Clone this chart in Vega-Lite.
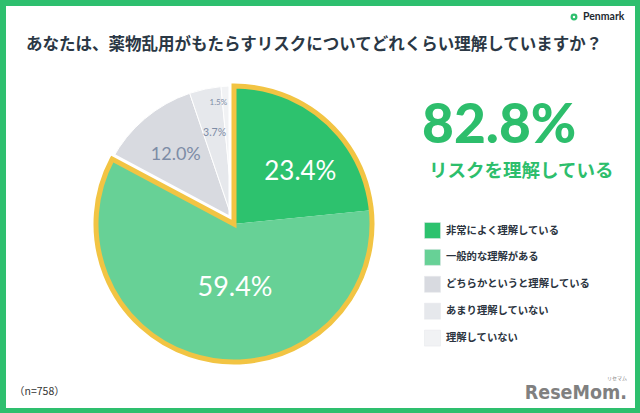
{
  "$schema": "https://vega.github.io/schema/vega-lite/v6.json",
  "width": 640,
  "height": 413,
  "autosize": {"type": "fit", "contains": "padding"},
  "padding": 5,
  "background": "#2EBF6E",
  "view": {"fill": "#FFFFFF", "fillOpacity": 1, "stroke": null},
  "datasets": {
    "survey": [
      {"rank": 1, "category": "非常によく理解している", "value": 23.4},
      {"rank": 2, "category": "一般的な理解がある", "value": 59.4},
      {"rank": 3, "category": "どちらかというと理解している", "value": 12.0},
      {"rank": 4, "category": "あまり理解していない", "value": 3.7},
      {"rank": 5, "category": "理解していない", "value": 1.5}
    ]
  },
  "data": {"name": "survey"},
  "transform": [{"calculate": "format(datum.value, '.1f') + '%'", "as": "label"}],
  "layer": [
    {
      "mark": {"type": "arc", "radius": 138, "stroke": "white", "strokeWidth": 1},
      "encoding": {
        "theta": {"field": "value", "type": "quantitative", "stack": true, "scale": {"domain": [0, 100]}},
        "order": {"field": "rank", "type": "quantitative"},
        "color": {
          "field": "category", "type": "nominal",
          "scale": {
            "domain": ["非常によく理解している", "一般的な理解がある", "どちらかというと理解している", "あまり理解していない", "理解していない"],
            "range": ["#2DC26E", "#67D196", "#D8DAE0", "#E6E8EC", "#F1F2F4"]
          },
          "legend": {
            "title": null, "orient": "none", "legendX": 418, "legendY": 216,
            "symbolType": "square", "symbolSize": 256, "symbolStrokeWidth": 0.5, "symbolStrokeColor": "#E4E6EA",
            "labelFont": "Noto Sans CJK JP", "labelFontSize": 10.3, "labelFontWeight": "bold", "labelColor": "#2B3440",
            "rowPadding": 7.9, "labelOffset": 5, "padding": 0, "symbolOpacity": 1
          }
        },
        "x": {"value": 228},
        "y": {"value": 218}
      }
    },
    {
      "transform": [{"filter": "datum.rank <= 2"}, {"aggregate": [{"op": "sum", "field": "value", "as": "total"}]}],
      "mark": {"type": "arc", "radius": 138, "filled": false, "stroke": "white", "strokeWidth": 11},
      "encoding": {
        "theta": {"field": "total", "type": "quantitative", "stack": true},
        "x": {"value": 228},
        "y": {"value": 218}
      }
    },
    {
      "transform": [{"filter": "datum.rank <= 2"}],
      "mark": {"type": "arc", "radius": 138},
      "encoding": {
        "theta": {"field": "value", "type": "quantitative", "stack": true},
        "order": {"field": "rank", "type": "quantitative"},
        "color": {"field": "category", "type": "nominal"},
        "x": {"value": 228},
        "y": {"value": 218}
      }
    },
    {
      "transform": [{"filter": "datum.rank <= 2"}, {"aggregate": [{"op": "sum", "field": "value", "as": "total"}]}],
      "mark": {"type": "arc", "radius": 138, "filled": false, "stroke": "#F2C443", "strokeWidth": 5},
      "encoding": {
        "theta": {"field": "total", "type": "quantitative", "stack": true},
        "x": {"value": 228},
        "y": {"value": 218}
      }
    },
    {
      "mark": {"type": "text", "radius": 81, "font": "Lato", "fontSize": 26, "color": "white", "dx": 12, "dy": 8},
      "encoding": {
        "theta": {"field": "value", "type": "quantitative", "stack": true},
        "order": {"field": "rank", "type": "quantitative"},
        "text": {"condition": {"test": "datum.rank == 1", "field": "label"}, "value": ""},
        "x": {"value": 228},
        "y": {"value": 218}
      }
    },
    {
      "mark": {"type": "text", "radius": 57, "font": "Lato", "fontSize": 27, "color": "white", "dx": 12, "dy": 8},
      "encoding": {
        "theta": {"field": "value", "type": "quantitative", "stack": true},
        "order": {"field": "rank", "type": "quantitative"},
        "text": {"condition": {"test": "datum.rank == 2", "field": "label"}, "value": ""},
        "x": {"value": 228},
        "y": {"value": 218}
      }
    },
    {
      "mark": {"type": "text", "radius": 90, "font": "Lato", "fontSize": 18, "color": "#7D8CA6"},
      "encoding": {
        "theta": {"field": "value", "type": "quantitative", "stack": true},
        "order": {"field": "rank", "type": "quantitative"},
        "text": {"condition": {"test": "datum.rank == 3", "field": "label"}, "value": ""},
        "x": {"value": 228},
        "y": {"value": 218}
      }
    },
    {
      "mark": {"type": "text", "radius": 93, "font": "Lato", "fontSize": 10.5, "color": "#7D8CA6"},
      "encoding": {
        "theta": {"field": "value", "type": "quantitative", "stack": true},
        "order": {"field": "rank", "type": "quantitative"},
        "text": {"condition": {"test": "datum.rank == 4", "field": "label"}, "value": ""},
        "x": {"value": 228},
        "y": {"value": 218}
      }
    },
    {
      "mark": {"type": "text", "radius": 121, "font": "Lato", "fontSize": 8, "color": "#7D8CA6", "dx": -10},
      "encoding": {
        "theta": {"field": "value", "type": "quantitative", "stack": true},
        "order": {"field": "rank", "type": "quantitative"},
        "text": {"condition": {"test": "datum.rank == 5", "field": "label"}, "value": ""},
        "x": {"value": 228},
        "y": {"value": 218}
      }
    },
    {
      "data": {"values": [{}]},
      "mark": {"type": "rule", "x": 361, "y": 157, "x2": 408, "y2": 139, "color": "#666666", "strokeWidth": 1},
      "encoding": {}
    },
    {
      "data": {"values": [{}]},
      "mark": {"type": "text", "text": "あなたは、薬物乱用がもたらすリスクについてどれくらい理解していますか？", "x": 20, "y": 39, "align": "left", "baseline": "middle", "font": "Noto Sans CJK JP", "fontWeight": "bold", "fontSize": 16.5, "color": "#2B3845"}
    },
    {
      "data": {"values": [{}]},
      "mark": {"type": "point", "x": 568, "y": 11, "shape": "circle", "filled": false, "color": "#2EBF6E", "strokeWidth": 2.2, "size": 22, "opacity": 1},
      "encoding": {}
    },
    {
      "data": {"values": [{}]},
      "mark": {"type": "text", "text": "Penmark", "x": 577, "y": 11, "align": "left", "baseline": "middle", "font": "Lato", "fontWeight": "bold", "fontSize": 10.5, "color": "#1E2A30"}
    },
    {
      "data": {"values": [{}]},
      "mark": {"type": "text", "text": "82.8%", "x": 416, "y": 137, "align": "left", "baseline": "alphabetic", "font": "Lato", "fontWeight": 900, "fontSize": 55, "color": "#2DBE6C"}
    },
    {
      "data": {"values": [{}]},
      "mark": {"type": "text", "text": "リスクを理解している", "x": 423, "y": 165, "align": "left", "baseline": "middle", "font": "Noto Sans CJK JP", "fontWeight": "bold", "fontSize": 18.5, "color": "#2DBE6C"}
    },
    {
      "data": {"values": [{}]},
      "mark": {"type": "text", "text": "（n=758）", "x": 8, "y": 386, "align": "left", "baseline": "middle", "font": "Noto Sans CJK JP", "fontSize": 10.5, "color": "#333333"}
    },
    {
      "data": {"values": [{}]},
      "mark": {"type": "text", "text": "ReseMom.", "x": 621, "y": 393, "align": "right", "baseline": "alphabetic", "font": "DejaVu Sans Condensed", "fontWeight": "bold", "fontSize": 19.5, "color": "#808080"}
    },
    {
      "data": {"values": [{}]},
      "mark": {"type": "text", "text": "リセマム", "x": 611, "y": 372, "align": "center", "baseline": "middle", "font": "Noto Sans CJK JP", "fontSize": 5, "color": "#808080"}
    }
  ]
}
